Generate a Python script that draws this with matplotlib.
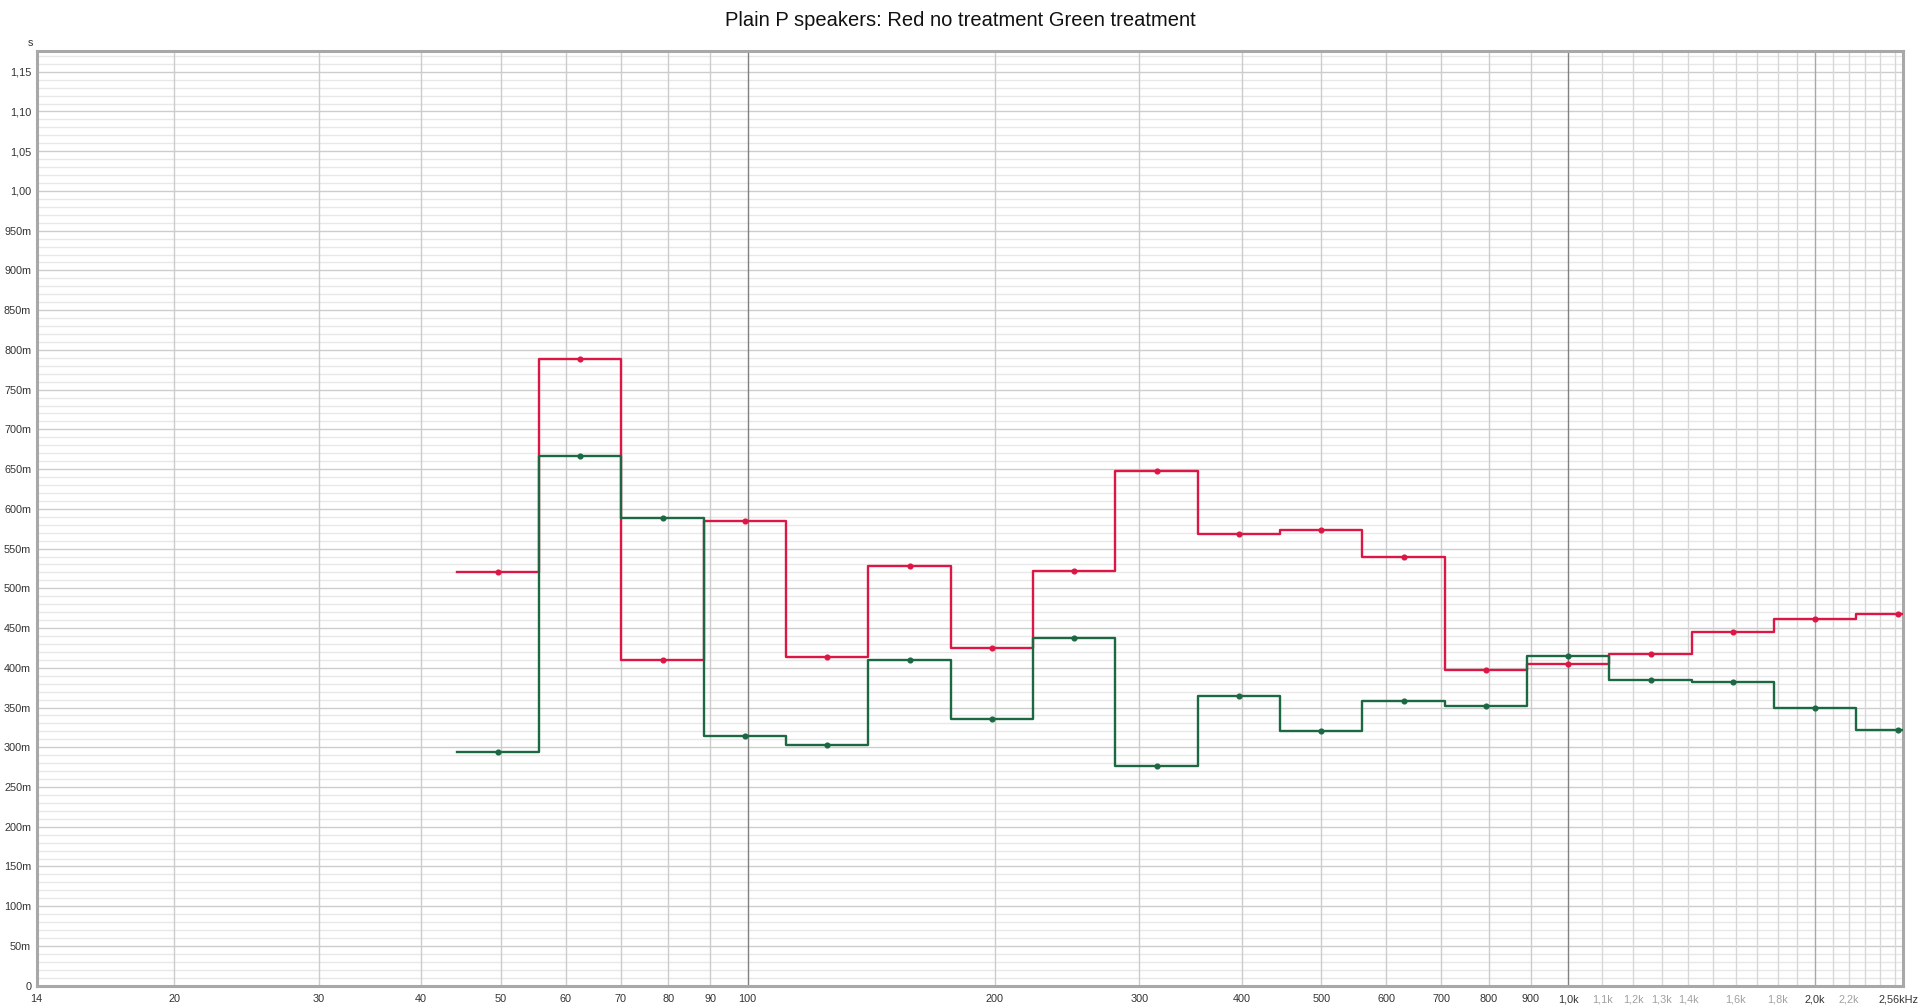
import matplotlib.pyplot as plt
import matplotlib.transforms as mtrans
import numpy as np

plt.rcParams['font.family'] = ['Liberation Sans', 'DejaVu Sans']

# 1/3 octave band centres (exact), n relative to 1 kHz
bands = [1000 * 2 ** (n / 3) for n in range(-13, 5)]
red_vals = [0.521, 0.788, 0.410, 0.585, 0.414, 0.528, 0.425, 0.522, 0.648,
            0.568, 0.574, 0.539, 0.397, 0.405, 0.418, 0.445, 0.462, 0.468]
green_vals = [0.294, 0.666, 0.588, 0.314, 0.303, 0.410, 0.336, 0.438, 0.276,
              0.364, 0.321, 0.358, 0.352, 0.415, 0.385, 0.382, 0.350, 0.322]

xtick_pos = [20, 30, 40, 50, 60, 70, 80, 90, 100, 200, 300, 400, 500, 600, 700,
             800, 900, 1000, 1100, 1200, 1300, 1400, 1600, 1800, 2000, 2200]
xtick_lab = ['20', '30', '40', '50', '60', '70', '80', '90', '100', '200', '300',
             '400', '500', '600', '700', '800', '900', '1,0k', '1,1k', '1,2k',
             '1,3k', '1,4k', '1,6k', '1,8k', '2,0k', '2,2k']
grey_labels = ['1,1k', '1,2k', '1,3k', '1,4k', '1,6k', '1,8k', '2,2k']

ytick_pos = [i * 0.05 for i in range(24)]
ytick_lab = ['0'] + ['%dm' % (i * 50) for i in range(1, 20)] + ['1,00', '1,05', '1,10', '1,15']

fmin, fmax = 13.6, 2555
ymax = 1.1765

fig = plt.figure(figsize=(19.2, 10.06), dpi=100)
ax = fig.add_axes([36.7 / 1920, 1 - 985.7 / 1006, (1902.5 - 36.7) / 1920, (985.7 - 50.7) / 1006])
ax.set_xscale('log')
ax.set_xlim(fmin, fmax)
ax.set_ylim(0, ymax)

# grid
for v in np.arange(0.01, ymax, 0.01):
    major = abs(v / 0.05 - round(v / 0.05)) < 1e-6
    ax.axhline(v, color='#cdcdcd' if major else '#e8e8e8', lw=1.0, zorder=0)
vlines = list(range(20, 100, 10)) + list(range(100, 1000, 100)) + list(range(1000, 2600, 100))
for f in vlines:
    if f in (100, 1000):
        c = '#808080'
    elif f == 2000:
        c = '#a8a8a8'
    elif f > 1000:
        c = '#d8d8d8'
    else:
        c = '#cccccc'
    ax.axvline(f, color=c, lw=1.0, zorder=0)

def steps(vals):
    xs, ys = [], []
    for c, v in zip(bands, vals):
        lo, hi = c * 2 ** (-1 / 6), min(c * 2 ** (1 / 6), fmax)
        xs += [lo, hi]
        ys += [v, v]
    return xs, ys

for vals, col in [(red_vals, '#dc1746'), (green_vals, '#1b6843')]:
    xs, ys = steps(vals)
    ax.plot(xs, ys, color=col, lw=1.7, zorder=3)
    ax.plot(bands, vals, 'o', color=col, ms=3.4, zorder=4)

ax.set_xticks([fmin] + xtick_pos + [fmax])
ax.set_xticklabels(['14'] + xtick_lab + ['2,56kHz'])
ax.xaxis.set_minor_locator(plt.NullLocator())
ax.set_yticks(ytick_pos)
ax.set_yticklabels(ytick_lab)
ax.tick_params(length=0, labelsize=7.8, colors='#333333')
ax.tick_params(axis='x', pad=6)
ax.tick_params(axis='y', pad=4)
for lab in ax.get_xticklabels():
    if lab.get_text() in grey_labels:
        lab.set_color('#a0a0a0')
last = ax.get_xticklabels()[-1]
last.set_horizontalalignment('right')
last.set_transform(last.get_transform() + mtrans.ScaledTranslation(16 / 100, 0, fig.dpi_scale_trans))

for s in ax.spines.values():
    s.set_color('#a8a8a8')
    s.set_linewidth(2.2)

fig.text(30 / 1920, 1 - 43 / 1006, 's', fontsize=7.8, color='#333333', ha='center', va='center')
fig.text(960 / 1920, 1 - 20 / 1006, 'Plain P speakers: Red no treatment Green treatment',
         fontsize=14.5, ha='center', va='center', color='#111111')

fig.savefig('out.png', dpi=100, facecolor='white')
